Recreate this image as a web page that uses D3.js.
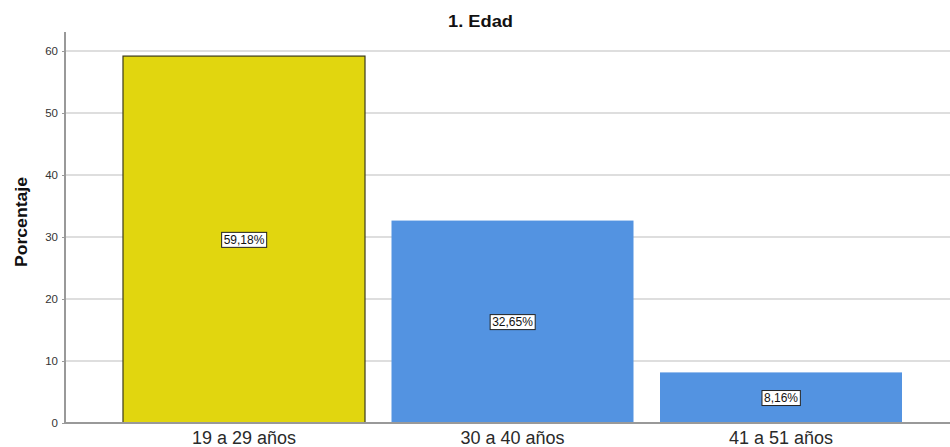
<!DOCTYPE html>
<html><head><meta charset="utf-8">
<script src="https://cdn.jsdelivr.net/npm/d3@7"></script>
<style>body{margin:0;background:#fff}svg{display:block}</style>
</head><body>
<svg id="c" width="950" height="447"></svg>
<script>
const title = "1. Edad";
const yTitle = "Porcentaje";
const categories = ["19 a 29 años", "30 a 40 años", "41 a 51 años"];
const values = [59.18, 32.65, 8.16];
const valueLabels = ["59,18%", "32,65%", "8,16%"];
const barColors = ["#E1D60F", "#5393E1", "#5393E1"];
const yTicks = [0, 10, 20, 30, 40, 50, 60];

(function () {
const svg = d3.select("#c");
const W = 950;
const mLeft = 65, mBottom = 423, mTop = 51;
const FONT = "Liberation Sans, Arial, sans-serif";

const x = d3.scaleBand().domain(categories).range([mLeft, 960]).paddingInner(0.0987).paddingOuter(0.216);
const y = d3.scaleLinear().domain([0, 60]).range([mBottom, mTop]);

// gridlines
svg.append("g").selectAll("line").data(yTicks.filter(d => d > 0)).join("line")
  .attr("x1", mLeft).attr("x2", W)
  .attr("y1", d => y(d)).attr("y2", d => y(d))
  .attr("stroke", "#d3d3d3").attr("stroke-width", 1.5);

// bars
svg.append("g").selectAll("rect").data(categories).join("rect")
  .attr("x", d => x(d)).attr("width", x.bandwidth())
  .attr("y", (d, i) => y(values[i])).attr("height", (d, i) => y(0) - y(values[i]))
  .attr("fill", (d, i) => barColors[i])
  .attr("stroke", (d, i) => i === 0 ? "#3b3a1a" : "none")
  .attr("stroke-width", 1.2);

// y axis
const yAxis = d3.axisLeft(y).tickValues(yTicks).tickSize(3).tickPadding(4);
const gy = svg.append("g").attr("transform", `translate(${mLeft},0)`).call(yAxis);
gy.select(".domain").remove();
gy.selectAll(".tick line").attr("stroke", "#999");
gy.selectAll(".tick text").attr("font-family", FONT).attr("font-size", 11.5).attr("fill", "#333");

// x axis
const xAxis = d3.axisBottom(x).tickSize(0).tickPadding(8);
const gx = svg.append("g").attr("transform", `translate(0,${mBottom})`).call(xAxis);
gx.select(".domain").remove();
gx.selectAll(".tick text").attr("font-family", FONT).attr("font-size", 18).attr("fill", "#2a2a2a");

// axis lines
svg.append("line").attr("x1", mLeft).attr("x2", mLeft).attr("y1", 32).attr("y2", mBottom)
  .attr("stroke", "#999").attr("stroke-width", 2);
svg.append("line").attr("x1", mLeft).attr("x2", W).attr("y1", mBottom).attr("y2", mBottom)
  .attr("stroke", "#999").attr("stroke-width", 2);

// value labels
const lg = svg.append("g").selectAll("g").data(categories).join("g")
  .attr("transform", (d, i) => `translate(${x(d) + x.bandwidth() / 2},${(y(values[i]) + y(0)) / 2})`);
lg.each(function(d, i) {
  const g = d3.select(this);
  const t = g.append("text").text(valueLabels[i])
    .attr("font-family", FONT).attr("font-size", 12)
    .attr("text-anchor", "middle").attr("dy", "0.36em").attr("fill", "#111");
  const bb = t.node().getBBox();
  g.insert("rect", "text").attr("x", bb.x - 2).attr("y", bb.y - 0.5)
    .attr("width", bb.width + 4).attr("height", bb.height + 1)
    .attr("fill", "#fff").attr("stroke", "#222").attr("stroke-width", 1);
});

// title
svg.append("text").text(title).attr("x", 480.5).attr("y", 27)
  .attr("text-anchor", "middle").attr("font-family", FONT)
  .attr("font-weight", "bold").attr("font-size", 17).attr("fill", "#111")
  .attr("textLength", 65).attr("lengthAdjust", "spacingAndGlyphs");

// y title
svg.append("text").text(yTitle)
  .attr("transform", "translate(27,222) rotate(-90)")
  .attr("text-anchor", "middle").attr("font-family", FONT)
  .attr("font-weight", "bold").attr("font-size", 17).attr("fill", "#111")
  .attr("textLength", 90).attr("lengthAdjust", "spacingAndGlyphs");
})();
</script>
</body></html>
